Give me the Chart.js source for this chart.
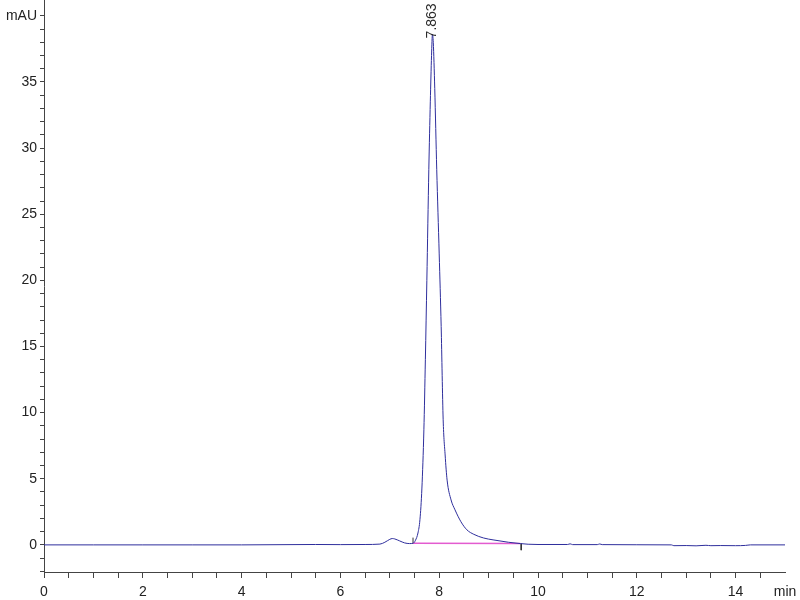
<!DOCTYPE html>
<html>
<head>
<meta charset="UTF-8" />
<title>Chromatogram</title>
<style>
  html, body { margin: 0; padding: 0; background: #fff; }
  #chart { display: block; }
</style>
</head>
<body>
<canvas id="chart" width="800" height="600"></canvas>
<script src="https://cdn.jsdelivr.net/npm/chart.js"></script>
<script>
  // signal trace (min, mAU)
  const times = [0, 1, 2, 3, 4, 5, 5.5, 6, 6.5, 6.8, 6.9, 7.0, 7.05, 7.1, 7.2, 7.3, 7.4, 7.47,
    7.52, 7.57, 7.61, 7.65, 7.69, 7.72, 7.75, 7.79, 7.82, 7.845, 7.863, 7.88, 7.91, 7.95,
    8.0, 8.04, 8.08, 8.12, 8.16, 8.24, 8.32, 8.44, 8.56, 8.7, 8.9, 9.09, 9.4, 9.64, 9.8, 10.0,
    10.6, 10.65, 10.7, 11.2, 11.25, 11.3, 12.0, 12.7, 12.75, 13.0, 13.2, 13.4, 13.5, 13.7,
    14.0, 14.2, 14.3, 15];
  const signal = [0, 0, 0, 0, 0, 0.02, 0.03, 0.02, 0.03, 0.06, 0.2, 0.42, 0.48, 0.45, 0.3, 0.15, 0.1, 0.12,
    0.35, 0.9, 1.9, 4.3, 8.7, 14, 20, 28.4, 33.5, 37, 38.6, 38, 34.5, 28.4,
    22, 16.5, 9.5, 6.8, 4.9, 3.4, 2.65, 1.75, 1.14, 0.8, 0.52, 0.38, 0.2, 0.1, 0.05, 0.03,
    0.03, 0.08, 0.02, 0.02, 0.07, 0.02, 0.01, 0, -0.06, -0.05, -0.07, -0.03, -0.06, -0.05,
    -0.06, -0.04, 0, 0];

  // integration baseline and start/end marks
  const baseTimes = [7.47, 9.64];
  const baseValues = [0.12, 0.1];
  const startMark = { t: 7.47, from: 0.1, to: 0.55 };
  const endMark = { t: 9.66, from: 0.1, to: -0.4 };

  const peakTime = 7.863;
  const peakLabel = '7.863';

  const xTicks = [];
  for (let v = 0; v <= 15; v += 0.5) xTicks.push(v);
  const yTicks = [];
  for (let v = -2; v <= 40; v += 1) yTicks.push(v);

  const fontFamily = "'Liberation Sans Narrow', 'Arial Narrow', 'Liberation Sans', Arial, sans-serif";

  const peakLabelPlugin = {
    id: 'peakLabel',
    afterDatasetsDraw(chart) {
      const meta = chart.getDatasetMeta(0);
      const idx = times.indexOf(peakTime);
      const pt = meta.data[idx];
      const ctx = chart.ctx;
      ctx.save();
      ctx.translate(pt.x, pt.y + 4);
      ctx.rotate(-Math.PI / 2);
      ctx.font = "14px 'Liberation Sans', Arial, sans-serif";
      ctx.fillStyle = '#2a2a2a';
      ctx.textAlign = 'left';
      ctx.textBaseline = 'middle';
      ctx.fillText(peakLabel, 0, 0);
      ctx.restore();
    }
  };

  new Chart(document.getElementById('chart'), {
    type: 'line',
    data: {
      datasets: [
        {
          data: times.map((t, i) => ({ x: t, y: signal[i] })),
          borderColor: '#2e2e9c',
          borderWidth: 1,
          pointRadius: 0,
          cubicInterpolationMode: 'monotone',
          fill: false
        },
        {
          data: baseTimes.map((t, i) => ({ x: t, y: baseValues[i] })),
          borderColor: '#e35bd0',
          borderWidth: 1.5,
          pointRadius: 0
        },
        {
          data: [{ x: startMark.t, y: startMark.from }, { x: startMark.t, y: startMark.to }],
          borderColor: '#333',
          borderWidth: 1,
          pointRadius: 0
        },
        {
          data: [{ x: endMark.t, y: endMark.from }, { x: endMark.t, y: endMark.to }],
          borderColor: '#333',
          borderWidth: 1,
          pointRadius: 0
        }
      ]
    },
    options: {
      responsive: false,
      animation: false,
      layout: { padding: { top: 0, right: 15, left: 0, bottom: 0 } },
      plugins: {
        legend: { display: false },
        tooltip: { enabled: false }
      },
      scales: {
        x: {
          type: 'linear',
          min: 0,
          max: 15,
          afterBuildTicks: scale => { scale.ticks = xTicks.map(v => ({ value: v })); },
          afterFit: scale => {
            scale.height = 28;
            scale.paddingLeft = 0;
            scale.paddingRight = 0;
          },
          border: { color: '#444', width: 1 },
          grid: {
            drawOnChartArea: false,
            tickLength: 6,
            tickColor: ctx => (ctx.tick && ctx.tick.value === 15 ? 'rgba(0,0,0,0)' : '#444')
          },
          ticks: {
            autoSkip: false,
            maxRotation: 0,
            padding: 6,
            color: '#222',
            font: { family: fontFamily, size: 14 },
            callback: v => (v === 15 ? 'min' : (v % 2 === 0 ? String(v) : ''))
          }
        },
        y: {
          min: -2.05,
          max: 41.2,
          afterBuildTicks: scale => { scale.ticks = yTicks.map(v => ({ value: v })); },
          afterFit: scale => {
            scale.width = 44;
            scale.paddingTop = 0;
            scale.paddingBottom = 0;
          },
          border: { color: '#444', width: 1 },
          grid: {
            drawOnChartArea: false,
            tickLength: 4,
            tickColor: '#444'
          },
          ticks: {
            autoSkip: false,
            padding: 3,
            color: '#222',
            font: { family: fontFamily, size: 14 },
            callback: v => (v === 40 ? 'mAU' : (v % 5 === 0 ? String(v) : ''))
          }
        }
      }
    },
    plugins: [peakLabelPlugin]
  });
</script>
</body>
</html>
